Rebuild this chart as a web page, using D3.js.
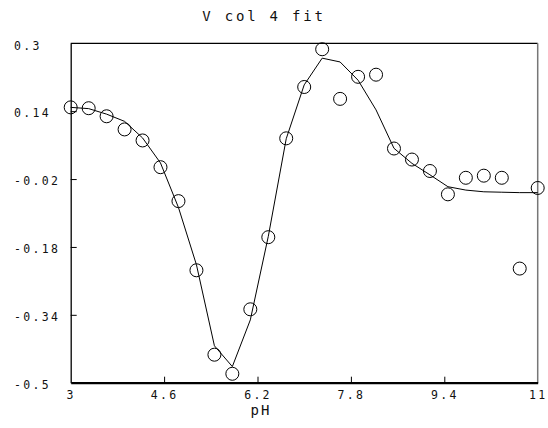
<!DOCTYPE html>
<html><head><meta charset="utf-8">
<script src="https://cdn.jsdelivr.net/npm/d3@7"></script>
<style>
html,body{margin:0;padding:0;background:#fff;}
svg{display:block;}
text{font-family:"DejaVu Sans Mono",monospace;fill:#111;}
</style></head>
<body>
<svg id="c" width="548" height="428"></svg>
<script>
const title = "V col 4 fit";
const xLabel = "pH";
const xTicks = [3, 4.6, 6.2, 7.8, 9.4, 11];
const yTicks = [-0.5, -0.34, -0.18, -0.02, 0.14, 0.3];
const xTickLabels = ["3", "4.6", "6.2", "7.8", "9.4", "11"];
const yTickLabels = ["-0.5", "-0.34", "-0.18", "-0.02", "0.14", "0.3"];
const pH = [3.000, 3.308, 3.615, 3.923, 4.231, 4.538, 4.846, 5.154, 5.462, 5.769,
            6.077, 6.385, 6.692, 7.000, 7.308, 7.615, 7.923, 8.231, 8.538, 8.846,
            9.154, 9.462, 9.769, 10.077, 10.385, 10.692, 11.000];
const observed = [0.149, 0.147, 0.128, 0.097, 0.071, 0.008, -0.072, -0.235, -0.434, -0.479,
                  -0.327, -0.157, 0.076, 0.197, 0.286, 0.169, 0.221, 0.226, 0.052, 0.026,
                  -0.001, -0.056, -0.017, -0.012, -0.017, -0.231, -0.041];
const fitted = [0.149, 0.146, 0.133, 0.116, 0.077, 0.018, -0.087, -0.222, -0.413, -0.462,
                -0.352, -0.155, 0.075, 0.202, 0.265, 0.256, 0.213, 0.143, 0.0525, 0.017,
                -0.010, -0.038, -0.046, -0.050, -0.051, -0.052, -0.052];

const svg = d3.select("#c");
const L = 70.7, R = 537.7, T = 43.3, B = 382.7;
const x = d3.scaleLinear().domain([3, 11]).range([L, R]);
const y = d3.scaleLinear().domain([-0.5, 0.3]).range([B, T]);

// title
svg.append("text").attr("x", 264).attr("y", 21)
  .attr("text-anchor", "middle").style("font-size", "14px").style("letter-spacing", "2.8px")
  .text(title);

// frame
svg.append("line").attr("x1", L).attr("x2", R).attr("y1", T).attr("y2", T)
  .attr("stroke", "#000").attr("stroke-width", 1.2);
svg.append("line").attr("x1", R).attr("x2", R).attr("y1", T).attr("y2", B)
  .attr("stroke", "#777").attr("stroke-width", 1.5);

// x axis (ticks inside)
const xAxis = d3.axisBottom(x).tickValues(xTicks).tickSize(-6).tickSizeOuter(0)
  .tickFormat((d, i) => xTickLabels[i]);
const gx = svg.append("g").attr("transform", `translate(0,${B})`).call(xAxis);
gx.select(".domain").attr("stroke", "#000").attr("stroke-width", 2.2);
gx.selectAll(".tick line").attr("stroke", "#000").attr("stroke-width", 1)
  .attr("display", d => (d === 3 || d === 11) ? "none" : null);
gx.selectAll(".tick text").attr("y", 16).attr("dy", 0).attr("fill", "#111")
  .style("font-size", "11.5px").style("letter-spacing", "2.3px")
  .style("font-family", '"DejaVu Sans Mono",monospace');

// y axis (ticks inside, labels left aligned)
const yAxis = d3.axisLeft(y).tickValues(yTicks).tickSize(-6).tickSizeOuter(0)
  .tickFormat((d, i) => yTickLabels[i]);
const gy = svg.append("g").attr("transform", `translate(${L},0)`).call(yAxis);
gy.select(".domain").attr("stroke", "#000").attr("stroke-width", 1.3);
gy.selectAll(".tick line").attr("stroke", "#000").attr("stroke-width", 1)
  .attr("display", d => (d === -0.5 || d === 0.3) ? "none" : null);
gy.selectAll(".tick text").attr("x", 14 - L).attr("dy", "0.5em").attr("text-anchor", "start")
  .attr("fill", "#111").style("font-size", "11.5px").style("letter-spacing", "2.3px")
  .style("font-family", '"DejaVu Sans Mono",monospace');

// x label
svg.append("text").attr("x", 261).attr("y", 415).attr("text-anchor", "middle")
  .style("font-size", "14px").style("letter-spacing", "2px").text(xLabel);

// fit line
const line = d3.line().x((d, i) => x(pH[i])).y(d => y(d));
svg.append("path").datum(fitted).attr("d", line)
  .attr("fill", "none").attr("stroke", "#000").attr("stroke-width", 1);

// observed circles
svg.append("g").selectAll("circle").data(observed).join("circle")
  .attr("cx", (d, i) => x(pH[i])).attr("cy", d => y(d)).attr("r", 6.5)
  .attr("fill", "none").attr("stroke", "#000").attr("stroke-width", 1);
</script>
</body></html>
